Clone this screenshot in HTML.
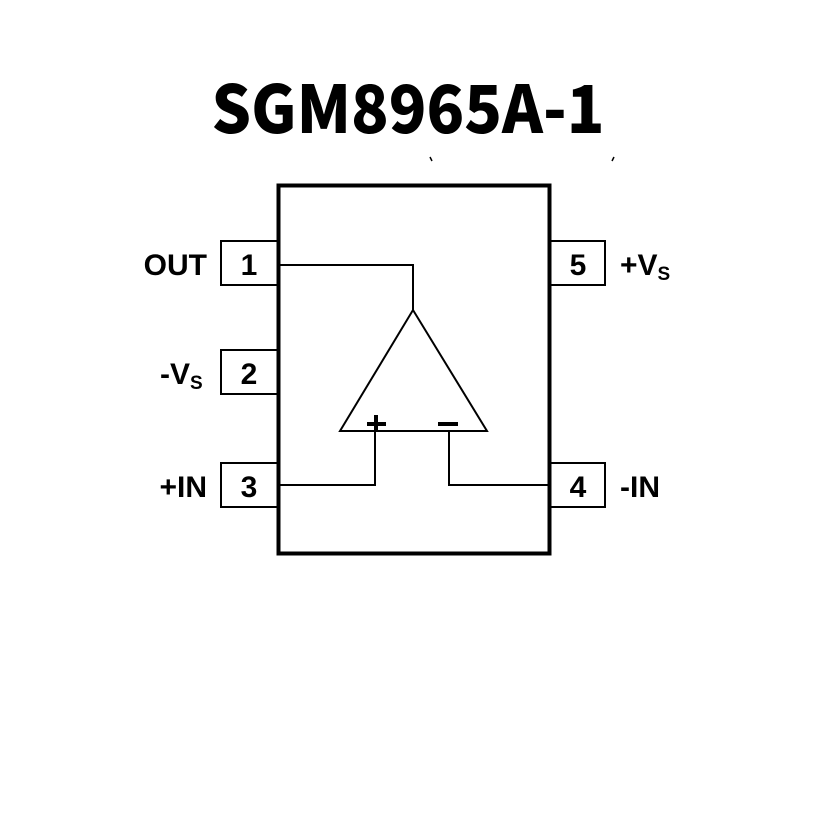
<!DOCTYPE html>
<html><head><style>
html,body{margin:0;padding:0;background:#fff;}
svg{display:block;}
</style></head><body>
<svg width="827" height="827" viewBox="0 0 827 827" xmlns="http://www.w3.org/2000/svg">
<rect width="827" height="827" fill="#fff"/>
<text x="408" y="133" text-anchor="middle" font-family="'Noto Sans CJK SC','Liberation Sans',sans-serif" font-weight="900" font-size="66" textLength="393" lengthAdjust="spacingAndGlyphs">SGM8965A-1</text>
<path d="M430 157 l2 4 M614 157 l-2 4" stroke="#000" stroke-width="1.5"/>
<g fill="none" stroke="#000">
<rect x="278.5" y="185.5" width="271" height="368" stroke-width="4"/>
<g stroke-width="2">
<path d="M278 241 H221 V285 H278"/>
<path d="M278 350 H221 V394 H278"/>
<path d="M278 463 H221 V507 H278"/>
<path d="M550 241 H605 V285 H550"/>
<path d="M550 463 H605 V507 H550"/>
<path d="M340 431 L413 310 L487 431 Z"/>
<path d="M279 265 H413 V310"/>
<path d="M375 431 V485 H279"/>
<path d="M449 431 V485 H549"/>
</g>
<path d="M367 424 H386 M376 415 V432 M438 424 H458" stroke-width="4"/>
</g>
<g font-family="'Liberation Sans',sans-serif" font-weight="bold" font-size="30" fill="#000">
<text x="249" y="275" text-anchor="middle">1</text>
<text x="249" y="384" text-anchor="middle">2</text>
<text x="249" y="497" text-anchor="middle">3</text>
<text x="578" y="497" text-anchor="middle">4</text>
<text x="578" y="275" text-anchor="middle">5</text>
<text x="207" y="275" text-anchor="end">OUT</text>
<text x="160" y="384">-V<tspan font-size="19" dy="5">S</tspan></text>
<text x="207" y="497" text-anchor="end">+IN</text>
<text x="620" y="275">+V<tspan font-size="19" dy="5">S</tspan></text>
<text x="620" y="497">-IN</text>
</g>
</svg>
</body></html>
